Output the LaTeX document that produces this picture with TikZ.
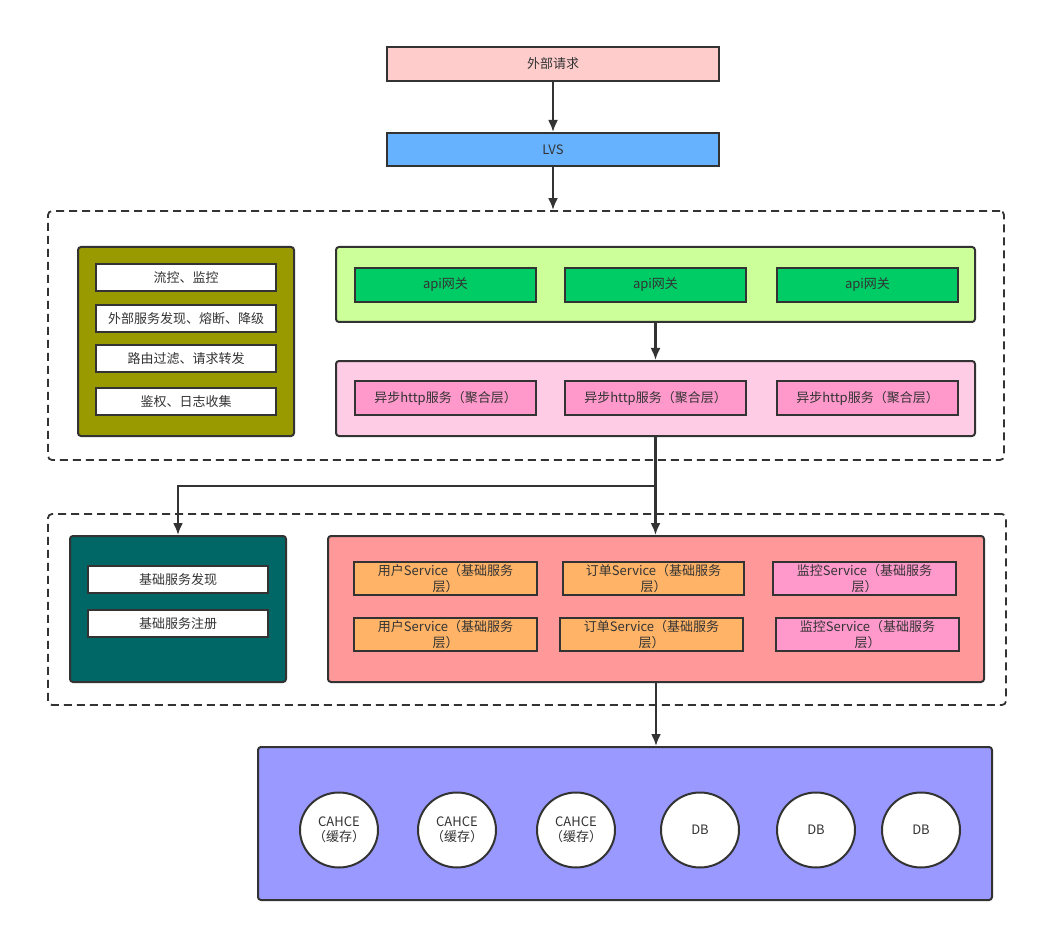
\documentclass[tikz,border=0pt]{standalone}
\usepackage{fontspec}
\setmainfont{Noto Sans CJK SC}
\usetikzlibrary{arrows.meta,shapes.geometric}

\definecolor{txtgray}{HTML}{333333}
\definecolor{reqpink}{HTML}{FFCCCC}
\definecolor{lvsblue}{HTML}{66B2FF}
\definecolor{ctrlolive}{HTML}{999900}
\definecolor{gwlime}{HTML}{CCFF99}
\definecolor{apigreen}{HTML}{00CC66}
\definecolor{agglight}{HTML}{FFCCE6}
\definecolor{httppink}{HTML}{FF99CC}
\definecolor{regteal}{HTML}{006666}
\definecolor{svcred}{HTML}{FF9999}
\definecolor{svcorange}{HTML}{FFB366}
\definecolor{storeblue}{HTML}{9999FF}

\begin{document}
\begin{tikzpicture}[
      x=1pt, y=-1pt,
      >={Latex[length=12pt,width=10pt]},
      every node/.style={text=txtgray, font=\fontsize{13}{15}\selectfont},
      flatbox/.style={
          rectangle, draw=txtgray, line width=2pt,
          inner sep=0pt, align=center
      },
      groupbox/.style={
          rectangle, rounded corners=3pt,
          draw=txtgray, line width=2pt, inner sep=0pt
      },
      zonebox/.style={
          rectangle, rounded corners=4pt,
          draw=txtgray, line width=1.8pt, inner sep=0pt,
          dash pattern=on 8pt off 5pt
      },
      storenode/.style={
          ellipse, draw=txtgray, line width=2pt, fill=white,
          minimum width=78pt, minimum height=75pt, inner sep=0pt, align=center
      },
      link/.style={->, draw=txtgray, line width=2.2pt}
  ]
    \useasboundingbox (0,0) rectangle (1039,933);

    % (a) Request and LVS
    \node[flatbox, fill=reqpink, minimum width=332pt, minimum height=34pt] (req) at (553,64) {外部请求};
    \node[flatbox, fill=lvsblue, minimum width=332pt, minimum height=33pt] (lvs) at (553,149.5) {LVS};

    % (b) Gateway zone
    \node[zonebox, minimum width=956pt, minimum height=249pt] (zone1) at (526,335.5) {};

    \node[groupbox, fill=ctrlolive, minimum width=216pt, minimum height=189pt] (ctrl) at (186,341.5) {};
    \node[flatbox, fill=white, minimum width=180pt, minimum height=27pt] (ctrla) at (186,277.5) {流控、监控};
    \node[flatbox, fill=white, minimum width=180pt, minimum height=27pt] (ctrlb) at (186,318.5) {外部服务发现、熔断、降级};
    \node[flatbox, fill=white, minimum width=180pt, minimum height=27pt] (ctrlc) at (186,358.5) {路由过滤、请求转发};
    \node[flatbox, fill=white, minimum width=180pt, minimum height=27pt] (ctrld) at (186,401.5) {鉴权、日志收集};

    \node[groupbox, fill=gwlime, minimum width=639pt, minimum height=75pt] (gw) at (655.5,284.5) {};
    \node[flatbox, fill=apigreen, minimum width=181pt, minimum height=34pt] (apia) at (445.5,285) {api网关};
    \node[flatbox, fill=apigreen, minimum width=181pt, minimum height=34pt] (apib) at (655.5,285) {api网关};
    \node[flatbox, fill=apigreen, minimum width=181pt, minimum height=34pt] (apic) at (867.5,285) {api网关};

    \node[groupbox, fill=agglight, minimum width=639pt, minimum height=75pt] (agg) at (655.5,398.5) {};
    \node[flatbox, fill=httppink, minimum width=181pt, minimum height=34pt] (httpa) at (445.5,398) {异步http服务（聚合层）};
    \node[flatbox, fill=httppink, minimum width=181pt, minimum height=34pt] (httpb) at (655.5,398) {异步http服务（聚合层）};
    \node[flatbox, fill=httppink, minimum width=181pt, minimum height=34pt] (httpc) at (867.5,398) {异步http服务（聚合层）};

    % (c) Service zone
    \node[zonebox, minimum width=958pt, minimum height=191pt] (zone2) at (527,609.5) {};

    \node[groupbox, fill=regteal, minimum width=216pt, minimum height=146pt] (reg) at (178,609) {};
    \node[flatbox, fill=white, minimum width=180pt, minimum height=27pt] (rega) at (178,579.5) {基础服务发现};
    \node[flatbox, fill=white, minimum width=180pt, minimum height=27pt] (regb) at (178,623.5) {基础服务注册};

    \node[groupbox, fill=svcred, minimum width=656pt, minimum height=146pt] (svc) at (656,609) {};
    \node[flatbox, fill=svcorange, minimum width=183pt, minimum height=33pt, font=\fontsize{13}{16}\selectfont] (usera) at (445.5,578.5) {用户Service（基础服务\\层）};
    \node[flatbox, fill=svcorange, minimum width=181pt, minimum height=33pt, font=\fontsize{13}{16}\selectfont] (ordera) at (653.5,578.5) {订单Service（基础服务\\层）};
    \node[flatbox, fill=httppink, minimum width=183pt, minimum height=33pt, font=\fontsize{13}{16}\selectfont] (mona) at (864.5,578.5) {监控Service（基础服务\\层）};
    \node[flatbox, fill=svcorange, minimum width=183pt, minimum height=33pt, font=\fontsize{13}{16}\selectfont] (userb) at (445.5,634.5) {用户Service（基础服务\\层）};
    \node[flatbox, fill=svcorange, minimum width=183pt, minimum height=33pt, font=\fontsize{13}{16}\selectfont] (orderb) at (651.5,634.5) {订单Service（基础服务\\层）};
    \node[flatbox, fill=httppink, minimum width=183pt, minimum height=33pt, font=\fontsize{13}{16}\selectfont] (monb) at (867.5,634.5) {监控Service（基础服务\\层）};

    % (d) Storage
    \node[groupbox, fill=storeblue, minimum width=734pt, minimum height=153pt] (store) at (625,823.5) {};
    \node[storenode] (cachea) at (339,830) {CAHCE\\（缓存）};
    \node[storenode] (cacheb) at (457,830) {CAHCE\\（缓存）};
    \node[storenode] (cachec) at (576,830) {CAHCE\\（缓存）};
    \node[storenode] (dba) at (700,830) {DB};
    \node[storenode] (dbb) at (816,830) {DB};
    \node[storenode] (dbc) at (921,830) {DB};

    % Edges
    \draw[link] (req) -- (lvs);
    \draw[link] (lvs.south) -- (lvs.south |- zone1.north);
    \draw[link] (gw) -- (agg);
    \coordinate (split) at (655.5,486);
    \draw[link] (agg.south) -- (agg.south |- svc.north);
    \draw[link] (split) -| (reg.north);
    \draw[link] (svc.south) -- (svc.south |- store.north);
  \end{tikzpicture}
\end{document}
